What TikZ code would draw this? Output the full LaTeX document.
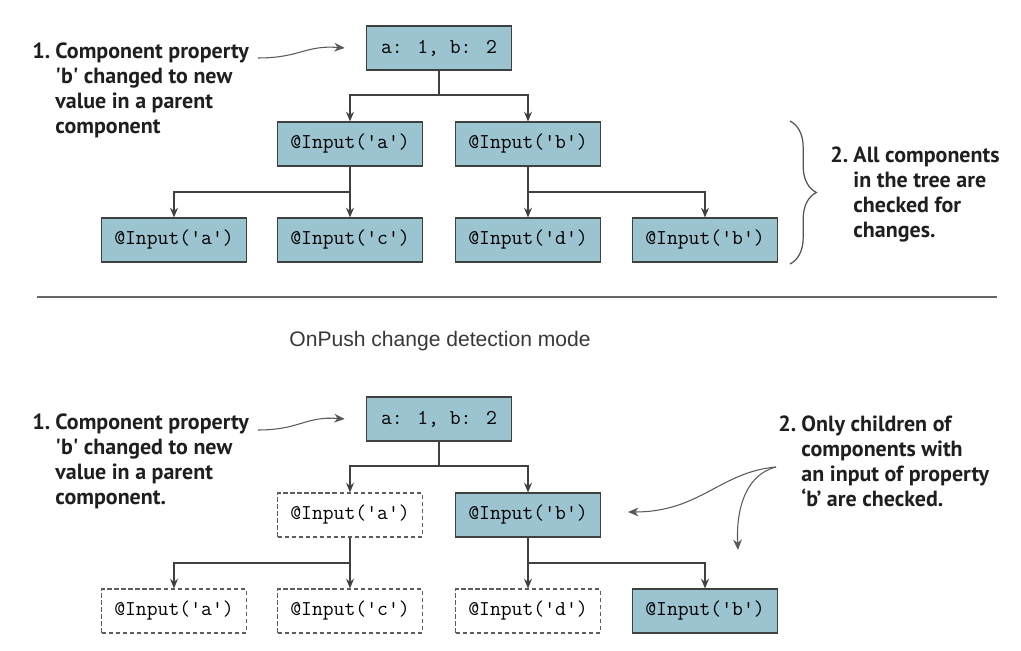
\documentclass[tikz,border=0pt]{standalone}
\usepackage{fontspec}
\setmainfont{PT Sans}
\setsansfont{Liberation Sans}
\usetikzlibrary{arrows.meta,decorations.pathreplacing}
\definecolor{compblue}{RGB}{155,196,208}
\definecolor{edgegray}{RGB}{64,64,64}

\begin{document}
\begin{tikzpicture}[x=0.02cm, y=-0.02cm,
    comp/.style={rectangle, draw=edgegray, line width=0.9pt, fill=compblue, font=\ttfamily\fontsize{12}{13}\selectfont, minimum width=2.9cm, minimum height=0.87cm, inner sep=0pt},
    skipped/.style={comp, fill=white, draw=edgegray!85, dash pattern=on 2.5pt off 1.5pt},
    link/.style={draw=edgegray, line width=0.8pt, -{Stealth[length=5.5pt,width=4.5pt]}},
    note/.style={anchor=north west, inner sep=0pt, font=\bfseries\fontsize{12.5}{14.2}\selectfont, text=black!88},
    pointer/.style={draw=black!65, line width=0.6pt, -{Stealth[length=6pt,width=5pt]}}
]
\useasboundingbox (0,0) rectangle (1021,651);

\node[comp] (root) at (439,48) {a: 1, b: 2};
\node[comp] (ina) at (350,144) {@Input('a')};
\node[comp] (inb) at (528,144) {@Input('b')};
\node[comp] (ina2) at (174,240) {@Input('a')};
\node[comp] (inc) at (350,240) {@Input('c')};
\node[comp] (ind) at (528,240) {@Input('d')};
\node[comp] (inb2) at (705,240) {@Input('b')};
\coordinate (j0) at (439,95);
\coordinate (ja) at (350,192);
\coordinate (jb) at (528,192);
\draw[edgegray, line width=0.8pt] (root) -- (j0);
\draw[link] (j0) -| (ina);
\draw[link] (j0) -| (inb);
\draw[edgegray, line width=0.8pt] (ina) -- (ja);
\draw[link] (ja) -| (ina2);
\draw[link] (ja) -- (inc);
\draw[edgegray, line width=0.8pt] (inb) -- (jb);
\draw[link] (jb) -- (ind);
\draw[link] (jb) -| (inb2);

\node[note] (note1) at (32,41) {\begin{tabular}{@{}l@{\hspace{3pt}}l@{}}1.&Component property\\&\textquotesingle b\textquotesingle{} changed to new\\&value in a parent\\&component\end{tabular}};
\coordinate (note1tail) at (258,58);
\draw[pointer] (note1tail) .. controls (300,58) and (305,45) .. ([xshift=-0.42cm]root.west);
\draw[edgegray!90, line width=0.7pt, decorate, decoration={brace, amplitude=15pt}] (790,121) -- (790,264);
\node[note] (note2) at (830,145) {\begin{tabular}{@{}l@{\hspace{3pt}}l@{}}2.&All components\\&in the tree are\\&checked for\\&changes.\end{tabular}};

\draw[black!60, line width=0.7pt] (37,297) -- (997,297);
\node[font=\sffamily\fontsize{12}{14}\selectfont, text=black!78] (mode) at (440,341) {OnPush change detection mode};

\node[comp] (proot) at (439,419) {a: 1, b: 2};
\node[skipped] (pina) at (350,515) {@Input('a')};
\node[comp] (pinb) at (528,515) {@Input('b')};
\node[skipped] (pina2) at (174,611) {@Input('a')};
\node[skipped] (pinc) at (350,611) {@Input('c')};
\node[skipped] (pind) at (528,611) {@Input('d')};
\node[comp] (pinb2) at (705,611) {@Input('b')};
\coordinate (pj0) at (439,466);
\coordinate (pja) at (350,563);
\coordinate (pjb) at (528,563);
\draw[edgegray, line width=0.8pt] (proot) -- (pj0);
\draw[link] (pj0) -| (pina);
\draw[link] (pj0) -| (pinb);
\draw[edgegray, line width=0.8pt] (pina) -- (pja);
\draw[link] (pja) -| (pina2);
\draw[link] (pja) -- (pinc);
\draw[edgegray, line width=0.8pt] (pinb) -- (pjb);
\draw[link] (pjb) -- (pind);
\draw[link] (pjb) -| (pinb2);

\node[note] (note3) at (32,412) {\begin{tabular}{@{}l@{\hspace{3pt}}l@{}}1.&Component property\\&\textquotesingle b\textquotesingle{} changed to new\\&value in a parent\\&component.\end{tabular}};
\coordinate (note3tail) at (258,430);
\draw[pointer] (note3tail) .. controls (300,430) and (305,416) .. ([xshift=-0.42cm]proot.west);
\node[note] (note4) at (778,414) {\begin{tabular}{@{}l@{\hspace{3pt}}l@{}}2.&Only children of\\&components with\\&an input of property\\&‘b’ are checked.\end{tabular}};
\coordinate (note4tail) at (776,467);
\coordinate (hitb) at (628,512);
\coordinate (hitb2) at (738,550);
\draw[pointer] (note4tail) .. controls (720,472) and (700,512) .. (hitb);
\draw[pointer] (note4tail) .. controls (745,475) and (736,510) .. (hitb2);
\end{tikzpicture}
\end{document}
